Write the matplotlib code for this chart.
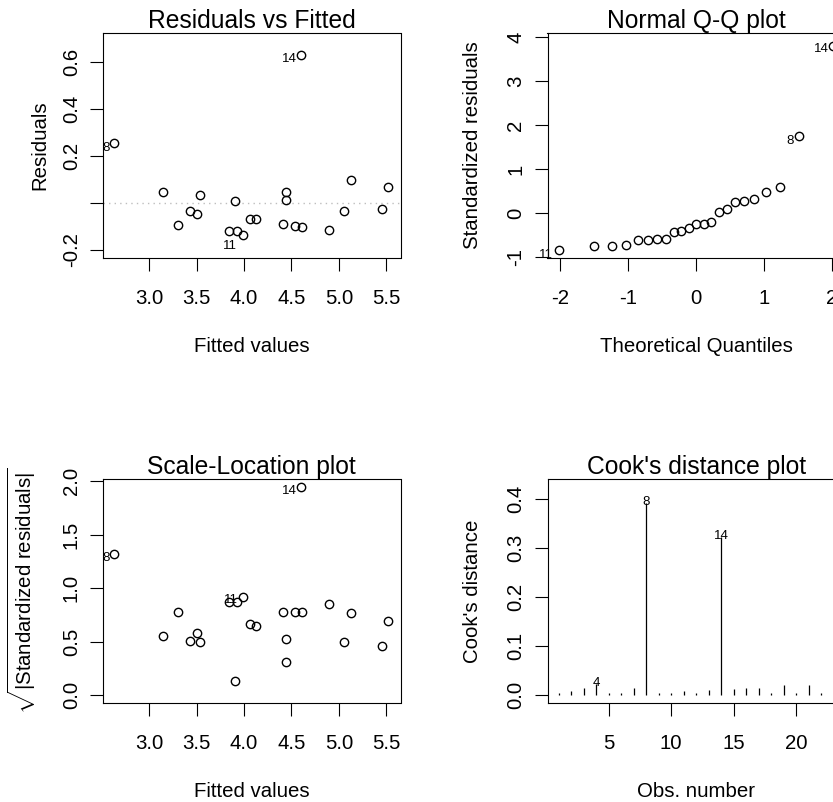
import matplotlib
matplotlib.use("Agg")
import matplotlib.pyplot as plt
from matplotlib.transforms import offset_copy
from statistics import NormalDist
import numpy as np

plt.rcParams['font.family'] = ['Liberation Sans', 'DejaVu Sans']
plt.rcParams['mathtext.fontset'] = 'custom'
plt.rcParams['mathtext.rm'] = 'Liberation Sans'
plt.rcParams['mathtext.it'] = 'Liberation Sans:italic'
plt.rcParams['mathtext.bf'] = 'Liberation Sans:bold'
plt.rcParams['axes.unicode_minus'] = False

# ---- model diagnostics (one entry per observation, ordered by fitted value) ----
fitted = [2.632, 3.151, 3.301, 3.435, 3.505, 3.536, 3.838, 3.908, 3.922, 3.992,
          4.059, 4.129, 4.413, 4.441, 4.441, 4.542, 4.605, 4.612, 4.900, 5.050,
          5.131, 5.457, 5.517]
residuals = [0.254, 0.0485, -0.0956, -0.034, -0.0485, 0.0357, -0.121, 0.0071, -0.121, -0.137,
             -0.0685, -0.0685, -0.0885, 0.0485, 0.0143, -0.097, 0.631, -0.103, -0.117, -0.034,
             0.097, -0.027, 0.070]
std_resid = [1.744, 0.31, -0.608, -0.253, -0.333, 0.245, -0.758, 0.017, -0.758, -0.838,
             -0.44, -0.415, -0.598, 0.28, 0.095, -0.598, 3.80, -0.608, -0.728, -0.247,
             0.584, -0.212, 0.48]
point_id = ["8", "", "", "", "", "", "", "", "", "11",
            "", "", "", "", "", "", "14", "", "", "",
            "", "", ""]

# Cook's distance for observations 1..23
obs_number = list(range(1, 24))
cooks = [0.004, 0.009, 0.015, 0.024, 0.004, 0.004, 0.015, 0.392, 0.004, 0.004,
         0.008, 0.004, 0.010, 0.322, 0.012, 0.014, 0.014, 0.004, 0.022, 0.004,
         0.022, 0.004, 0.006]
cooks_labelled = [4, 8, 14]

# ---- appearance ----
TITLE_FS = 17.7
LABEL_FS = 14.7
TICK_FS = 14.7
ID_FS = 9.5
MS = 6.0
MEW = 1.0

W, H = 833, 802
fig = plt.figure(figsize=(W / 100, H / 100), dpi=100)


def axes_px(left, top, right, bottom):
    return fig.add_axes([left / W, 1 - bottom / H, (right - left) / W, (bottom - top) / H])


ax_rf = axes_px(103, 33, 400.5, 258)
ax_qq = axes_px(547.5, 33, 845, 258)
ax_sl = axes_px(103, 479, 400.5, 703.3)
ax_cd = axes_px(547.5, 479, 845, 703.3)


def style(ax, title, xlabel, ylabel, ylab_x):
    for s in ax.spines.values():
        s.set_linewidth(0.8)
    ax.tick_params(axis='x', length=9.4, width=0.8, pad=12.8, labelsize=TICK_FS)
    ax.tick_params(axis='y', length=9.4, width=0.8, pad=6.5, labelsize=TICK_FS,
                   labelrotation=90)
    for lab in ax.get_yticklabels():
        lab.set_verticalalignment('center')
    ax.set_title(title, fontsize=TITLE_FS, pad=3.6)
    ax.set_xlabel(xlabel, fontsize=LABEL_FS)
    ax.set_ylabel(ylabel, fontsize=LABEL_FS)
    ax.xaxis.set_label_coords(0.5, -0.349)
    ax.yaxis.set_label_coords(ylab_x, 0.5)


def label_points(ax, xs, ys, ids, offsets):
    for x, y, pid in zip(xs, ys, ids):
        if pid and pid in offsets:
            dx, dy = offsets[pid]
            tr = offset_copy(ax.transData, fig=fig, x=dx, y=dy, units='dots')
            ax.text(x, y, pid, transform=tr, ha='right', va='center',
                    fontsize=ID_FS, clip_on=False)


def circles(ax, xs, ys):
    ax.plot(xs, ys, linestyle='none', marker='o', markersize=MS,
            markerfacecolor='none', markeredgecolor='black', markeredgewidth=MEW,
            clip_on=False)


# Residuals vs Fitted
circles(ax_rf, fitted, residuals)
ax_rf.axhline(0, color='#bebebe', linestyle=(0, (1, 3)), linewidth=1.0, zorder=0)
label_points(ax_rf, fitted, residuals, point_id,
             {"14": (-5, -4.5), "8": (-4, -4.5), "11": (-6.5, -11)})
ax_rf.set_xlim(2.515, 5.648)
ax_rf.set_ylim(-0.234, 0.723)
ax_rf.set_xticks([3.0, 3.5, 4.0, 4.5, 5.0, 5.5])
ax_rf.set_xticklabels(["3.0", "3.5", "4.0", "4.5", "5.0", "5.5"])
ax_rf.set_yticks([-0.2, 0.0, 0.2, 0.4, 0.6])
ax_rf.set_yticklabels(["-0.2", "", "0.2", "0.4", "0.6"])
style(ax_rf, "Residuals vs Fitted", "Fitted values", "Residuals", -0.181)

# Normal Q-Q plot
n = len(std_resid)
order = np.argsort(std_resid)
sorted_resid = [std_resid[i] for i in order]
sorted_ids = [point_id[i] for i in order]
a = 0.5 if n > 10 else 3 / 8
theo = [NormalDist().inv_cdf((i + 1 - a) / (n + 1 - 2 * a)) for i in range(n)]
circles(ax_qq, theo, sorted_resid)
label_points(ax_qq, theo, sorted_resid, sorted_ids,
             {"14": (-5, -3), "8": (-5, -5), "11": (-6, -5)})
ax_qq.set_xlim(-2.19, 2.19)
ax_qq.set_ylim(-1.02, 4.09)
ax_qq.set_xticks([-2, -1, 0, 1, 2])
ax_qq.set_xticklabels(["-2", "-1", "0", "1", "2"])
ax_qq.set_yticks([-1, 0, 1, 2, 3, 4])
ax_qq.set_yticklabels(["-1", "0", "1", "2", "3", "4"])
style(ax_qq, "Normal Q-Q plot", "Theoretical Quantiles", "Standardized residuals", -0.2205)

# Scale-Location plot
sqrt_abs = [abs(v) ** 0.5 for v in std_resid]
circles(ax_sl, fitted, sqrt_abs)
label_points(ax_sl, fitted, sqrt_abs, point_id,
             {"14": (-5, -4), "8": (-4, -4), "11": (-5, -3)})
ax_sl.set_xlim(2.515, 5.648)
ax_sl.set_ylim(-0.075, 2.02)
ax_sl.set_xticks([3.0, 3.5, 4.0, 4.5, 5.0, 5.5])
ax_sl.set_xticklabels(["3.0", "3.5", "4.0", "4.5", "5.0", "5.5"])
ax_sl.set_yticks([0.0, 0.5, 1.0, 1.5, 2.0])
ax_sl.set_yticklabels(["0.0", "0.5", "1.0", "1.5", "2.0"])
style(ax_sl, "Scale-Location plot", "Fitted values",
      r"$\sqrt{|\mathrm{Standardized\ residuals}|}$", -0.22)

# Cook's distance plot
ax_cd.vlines(obs_number, 0, cooks, colors='black', linewidth=0.9)
for k in cooks_labelled:
    tr = offset_copy(ax_cd.transData, fig=fig, x=0, y=1, units='dots')
    ax_cd.text(k, cooks[k - 1], str(k), transform=tr, ha='center', va='center',
               fontsize=ID_FS)
ax_cd.set_xlim(0.12, 23.88)
ax_cd.set_ylim(-0.0163, 0.4408)
ax_cd.set_xticks([5, 10, 15, 20])
ax_cd.set_yticks([0.0, 0.1, 0.2, 0.3, 0.4])
ax_cd.set_yticklabels(["0.0", "0.1", "0.2", "0.3", "0.4"])
style(ax_cd, "Cook's distance plot", "Obs. number", "Cook's distance", -0.2205)

fig.savefig("out.png", dpi=100)
